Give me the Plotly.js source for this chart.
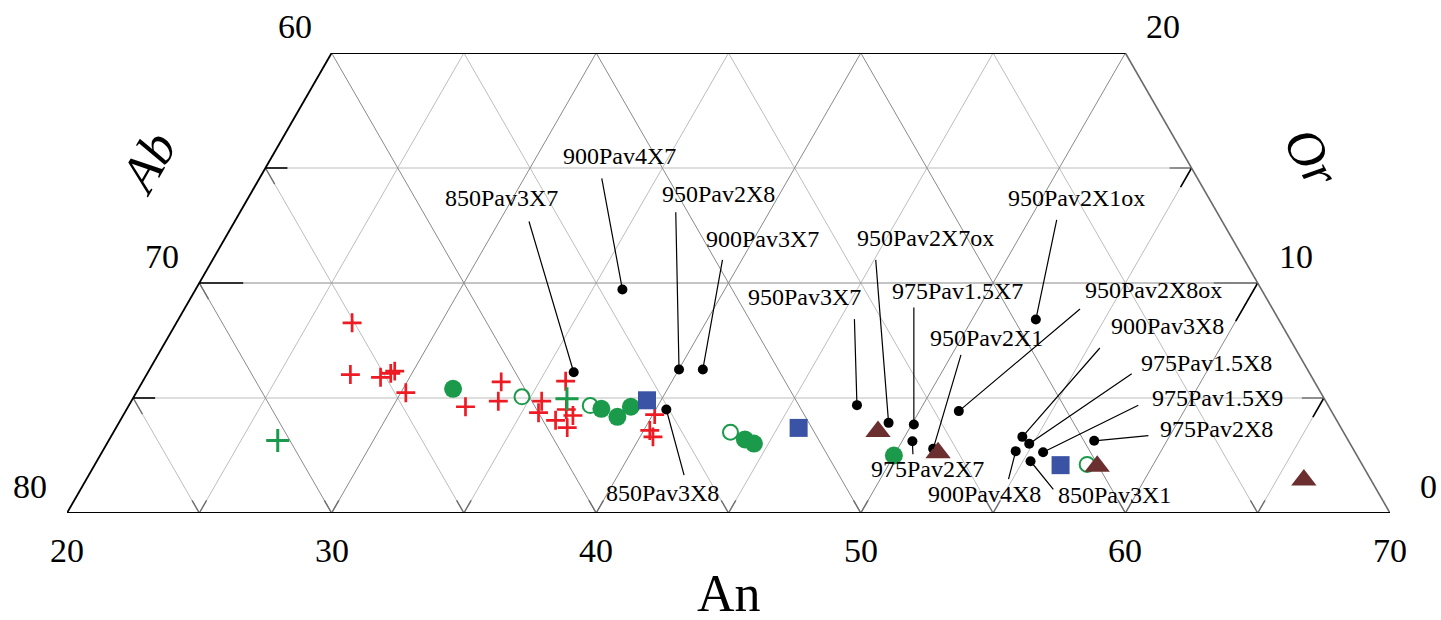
<!DOCTYPE html>
<html><head><meta charset="utf-8">
<script src="https://cdn.plot.ly/plotly-3.0.1.min.js"></script>
<style>html,body{margin:0;padding:0;background:#fff}#chart{width:1441px;height:620px}</style>
</head><body><div id="chart"></div>
<script>
// ---- Data: feldspar compositions (mol%), An and Or; Ab = 100 - An - Or ----
const redPlusAn = [26.64,27.70,28.90,29.20,29.30,30.19,32.75,33.56,33.87,35.51,35.64,35.98,36.62,37.00,36.45,37.05,40.07,40.23,40.49];
const redPlusOr = [8.27,6.02,5.90,6.07,6.17,5.23,4.62,5.70,4.86,4.86,4.36,5.73,4.50,4.24,4.03,3.71,4.28,3.59,3.31];
const greenPlusAn = [26.39,36.41];
const greenPlusOr = [3.15,4.97];
const greenOpenAn = [34.67,37.44,43.32,57.50];
const greenOpenOr = [5.05,4.67,3.51,2.11];
const greenDotAn = [31.89,37.93,38.71,39.00,44.02,44.45,50.00];
const greenDotOr = [5.40,4.53,4.18,4.62,3.20,3.02,2.50];
const blueSqAn = [39.47,45.80,56.51];
const blueSqOr = [4.90,3.70,2.08];
const brownTriAn = [48.88,51.61,57.92,66.03];
const brownTriOr = [3.54,2.62,2.03,1.43];
const expNames = ['900Pav4X7','850Pav3X7','950Pav2X8','900Pav3X7','850Pav3X8','950Pav3X7','950Pav2X7ox','975Pav1.5X7','975Pav2X7','950Pav2X1','950Pav2X8ox','950Pav2X1ox','900Pav3X8','975Pav1.5X8','975Pav1.5X9','900Pav4X8','850Pav3X1','975Pav2X8'];
const expAn = [36.13,36.09,40.01,40.91,40.40,47.51,49.09,50.08,50.39,51.34,51.49,52.41,54.45,54.86,55.57,54.51,55.29,57.25];
const expOr = [9.72,6.12,6.24,6.24,4.50,4.69,3.92,3.85,3.12,2.79,4.43,8.41,3.31,3.01,2.64,2.69,2.25,3.14];

// ---- Axis tick values ----
const anTickLabels = [20,30,40,50,60,70];
const abTickLabels = [80,70,60];
const orTickLabels = [0,10,20];
const anGrid = [25,30,35,40,45,50,55,60,65];
const abGrid = [35,40,45,50,55,60,65,70,75];
const orGrid = [5,10,15];
const AN_MIN = 20, AB_MIN = 30, OR_MAX = 20;

// ---- Label placement (pixel offsets: text dx,dy ; leader start dx,dy) ----
const labelPos = {
 '900Pav4X7':[-3,-133,-21,-113],
 '850Pav3X7':[-72.5,-174.4,-45.3,-152.7],
 '950Pav2X8':[39.9,-175,-3.3,-159.3],
 '900Pav3X7':[59.2,-130,20,-111.7],
 '850Pav3X8':[-3.7,83.3,18.3,67.7],
 '950Pav3X7':[-52.3,-107.7,-2.6,-88],
 '950Pav2X7ox':[37.3,-185,-13,-165],
 '975Pav1.5X7':[43.8,-133.3,0,-119],
 '975Pav2X7':[14.8,27.6,0.6,15],
 '950Pav2X1':[53,-111,28.4,-96],
 '950Pav2X8ox':[194.7,-120.7,122.7,-103.4],
 '950Pav2X1ox':[40.3,-121.7,21.3,-101.7],
 '900Pav3X8':[145.1,-110.6,79,-90.6],
 '975Pav1.5X8':[177.4,-80.3,104,-71],
 '975Pav1.5X9':[174.5,-54.4,96.7,-47.7],
 '900Pav4X8':[-31.3,43.3,-7.7,30],
 '850Pav3X1':[84.1,33.3,24.3,30],
 '975Pav2X8':[121.9,-11.3,55.7,-5.3]
};

const S3 = Math.sqrt(3)/2;
const FONT = 'Liberation Serif, Times New Roman, serif';
function P(an, or){ return [an + or/2, or*S3]; }
function TX(an, or){ return an.map((a,i)=>a + or[i]/2); }
function TY(or){ return or.map(o=>o*S3); }
function seg(t,a1,o1,a2,o2){ const p=P(a1,o1), q=P(a2,o2); t.x.push(p[0],q[0],null); t.y.push(p[1],q[1],null); }

const minor={x:[],y:[]}, major={x:[],y:[]};
anGrid.forEach(a=>{ const top=Math.min(OR_MAX,100-AB_MIN-a); seg(a%10?minor:major,a,0,a,top); });
abGrid.forEach(b=>{ const top=Math.min(OR_MAX,100-b-AN_MIN); seg(b%10?minor:major,100-b,0,100-b-top,top); });
orGrid.forEach(o=>seg(o%10?minor:major,AN_MIN,o,100-AB_MIN-o,o));

const edgesBlack={x:[],y:[]}, edgeRight={x:[],y:[]};
seg(edgesBlack,AN_MIN,0,AN_MIN,OR_MAX);
seg(edgesBlack,AN_MIN,OR_MAX,100-AB_MIN-OR_MAX,OR_MAX);
seg(edgesBlack,AN_MIN,0,100-AB_MIN,0);
seg(edgeRight,100-AB_MIN,0,100-AB_MIN-OR_MAX,OR_MAX);

const ticksBlack={x:[],y:[]}, ticksGray={x:[],y:[]};
orGrid.forEach(o=>{
  const L = o%10 ? 0.83 : 1.66;
  seg(ticksBlack,AN_MIN,o,AN_MIN+L,o);
  seg(ticksBlack,100-AB_MIN-o,o,100-AB_MIN-o,o-L);
  seg(ticksGray,100-AB_MIN-o,o,100-AB_MIN-o-L,o);
  seg(ticksGray,AN_MIN,o,AN_MIN+0.7,o-0.7);
});
anGrid.forEach(a=>{
  seg(ticksGray,a,0,a,0.55);
  seg(ticksGray,a,0,a-0.55,0.55);
});

function lineTrace(t,color,w){ return {x:t.x,y:t.y,mode:'lines',line:{color:color,width:w},hoverinfo:'skip',cliponaxis:false,type:'scatter'}; }

const traces = [
  lineTrace(minor,'#bdbdbd',1),
  lineTrace(major,'#8a8a8a',1),
  lineTrace(ticksGray,'#6e6e6e',1.4),
  lineTrace(ticksBlack,'#000000',1.6),
  lineTrace(edgeRight,'#6a6a6a',1.6),
  lineTrace(edgesBlack,'#000000',1.8),
  {x:TX(expAn,expOr),y:TY(expOr),mode:'markers',type:'scatter',cliponaxis:false,text:expNames,
   marker:{symbol:'circle',size:10,color:'#000'}},
  {x:TX(redPlusAn,redPlusOr),y:TY(redPlusOr),mode:'markers',type:'scatter',cliponaxis:false,
   marker:{symbol:'cross-thin',size:13.5,color:'#ed1c24',line:{color:'#ed1c24',width:2.7}}},
  {x:TX(greenPlusAn,greenPlusOr),y:TY(greenPlusOr),mode:'markers',type:'scatter',cliponaxis:false,
   marker:{symbol:'cross-thin',size:16.5,color:'#1a9a4a',line:{color:'#1a9a4a',width:3}}},
  {x:TX(greenOpenAn,greenOpenOr),y:TY(greenOpenOr),mode:'markers',type:'scatter',cliponaxis:false,
   marker:{symbol:'circle-open',size:15,color:'#1a9a4a',line:{color:'#1a9a4a',width:2}}},
  {x:TX(greenDotAn,greenDotOr),y:TY(greenDotOr),mode:'markers',type:'scatter',cliponaxis:false,
   marker:{symbol:'circle',size:18,color:'#1a9a4a'}},
  {x:TX(blueSqAn,blueSqOr),y:TY(blueSqOr),mode:'markers',type:'scatter',cliponaxis:false,
   marker:{symbol:'square',size:18,color:'#3a53a4'}},
  {x:TX(brownTriAn,brownTriOr),y:TY(brownTriOr),mode:'markers',type:'scatter',cliponaxis:false,
   marker:{symbol:'triangle-up',size:22,color:'#6b2f2f'}}
];

const ann = [];
anTickLabels.forEach(a=>{ const p=P(a,0); ann.push({x:p[0],y:p[1],text:String(a),showarrow:false,yshift:-37,xanchor:'center',yanchor:'middle',font:{family:FONT,size:34,color:'#000'}}); });
abTickLabels.forEach(b=>{ const orv=100-b-AN_MIN; const p=P(AN_MIN,orv); ann.push({x:p[0],y:p[1],text:String(b),showarrow:false,xshift:-37,yshift:27,xanchor:'center',yanchor:'middle',font:{family:FONT,size:34,color:'#000'}}); });
orTickLabels.forEach(o=>{ const p=P(100-AB_MIN-o,o); ann.push({x:p[0],y:p[1],text:String(o),showarrow:false,xshift:38,yshift:27,xanchor:'center',yanchor:'middle',font:{family:FONT,size:34,color:'#000'}}); });

expNames.forEach((n,i)=>{
  const p=P(expAn[i],expOr[i]); const o=labelPos[n];
  ann.push({x:p[0],y:p[1],text:' ',showarrow:true,ax:o[2],ay:o[3],arrowhead:0,arrowwidth:1.2,arrowcolor:'#000',standoff:0,startstandoff:0,font:{size:1}});
  ann.push({x:p[0],y:p[1],text:n,showarrow:false,xshift:o[0],yshift:-o[1],xanchor:'center',yanchor:'middle',font:{family:FONT,size:24,color:'#000'}});
});

ann.push({x:P(45,0)[0],y:0,text:'An',showarrow:false,yshift:-80,xanchor:'center',yanchor:'middle',height:46,valign:'middle',font:{family:FONT,size:52,color:'#000'}});
ann.push({xref:'paper',yref:'paper',x:(148-67)/1323,y:(513-163)/460,text:'<i>Ab</i>',textangle:-60,showarrow:false,xanchor:'center',yanchor:'middle',font:{family:FONT,size:52,color:'#000'}});
ann.push({xref:'paper',yref:'paper',x:(1312-67)/1323,y:(513-157)/460,text:'<i>Or</i>',textangle:60,showarrow:false,xanchor:'center',yanchor:'middle',font:{family:FONT,size:52,color:'#000'}});

const layout = {
  width:1441,height:620,margin:{l:67,r:51,t:53,b:107,pad:0},
  paper_bgcolor:'#fff',plot_bgcolor:'#fff',showlegend:false,
  xaxis:{range:[20,70],visible:false,fixedrange:true},
  yaxis:{range:[0,20*S3],visible:false,fixedrange:true},
  annotations:ann,font:{family:FONT},hovermode:false
};
Plotly.newPlot('chart',traces,layout,{displayModeBar:false,staticPlot:true});
</script></body></html>
